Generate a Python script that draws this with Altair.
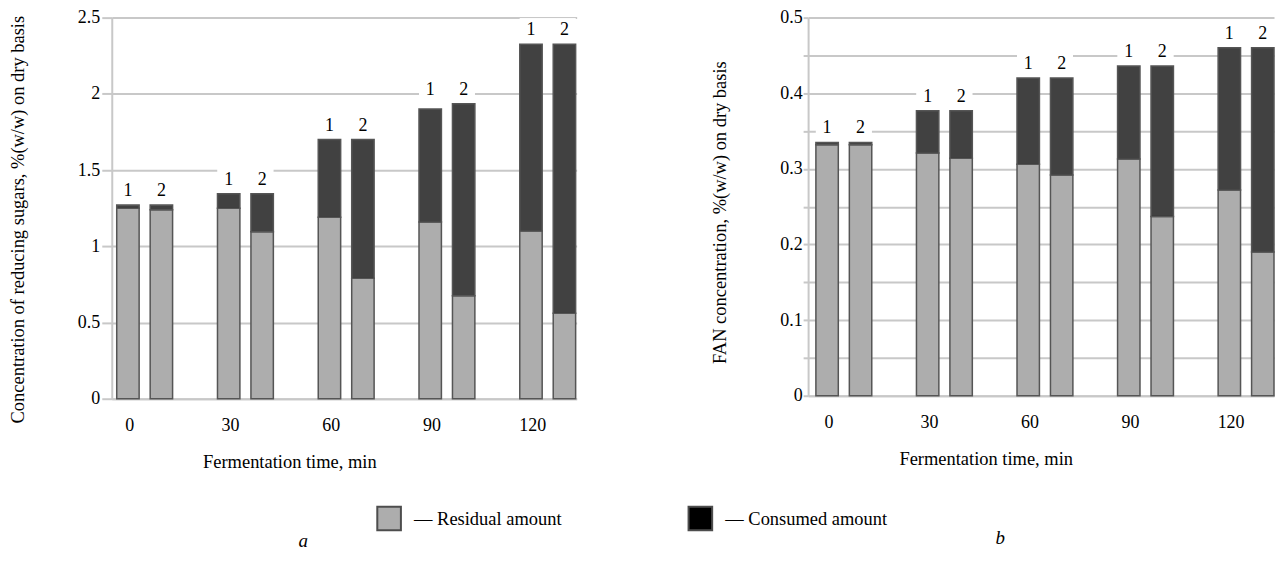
import altair as alt
import pandas as pd

FONT = "Liberation Serif"

# ---------------- data ----------------
times = ["0", "30", "60", "90", "120"]
sample_ids = ["1", "2"]
parts = ["Residual amount", "Consumed amount"]

# (a) reducing sugars, %(w/w) on dry basis
sugar_residual_1 = [1.25, 1.25, 1.19, 1.16, 1.10]
sugar_consumed_1 = [0.02, 0.095, 0.51, 0.74, 1.225]
sugar_residual_2 = [1.24, 1.095, 0.79, 0.675, 0.56]
sugar_consumed_2 = [0.03, 0.25, 0.91, 1.26, 1.765]

# (b) FAN, %(w/w) on dry basis
fan_residual_1 = [0.332, 0.321, 0.306, 0.313, 0.272]
fan_consumed_1 = [0.003, 0.056, 0.114, 0.123, 0.188]
fan_residual_2 = [0.332, 0.314, 0.292, 0.237, 0.190]
fan_consumed_2 = [0.003, 0.063, 0.128, 0.199, 0.270]

sugar_ticks = [0, 0.5, 1, 1.5, 2, 2.5]
fan_ticks = [0, 0.05, 0.1, 0.15, 0.2, 0.25, 0.3, 0.35, 0.4, 0.45, 0.5]


def build(res1, con1, res2, con2):
    rows = []
    for i, t in enumerate(times):
        for s, res, con in (("1", res1, con1), ("2", res2, con2)):
            tot = res[i] + con[i]
            rows.append({"time": t, "sample": s, "part": parts[0], "key": parts[0],
                         "ord": 0, "value": res[i], "total": tot})
            rows.append({"time": t, "sample": s, "part": parts[1], "key": parts[1],
                         "ord": 1, "value": con[i], "total": tot})
    return pd.DataFrame(rows)


GRID = "#c8c8c8"


def panel(df, ytitle, title_y, ydomain, yvalues, label_expr, tick_size, label_pad,
          width, height, xscale, letter, with_legend):
    x_axis = alt.Axis(labelAngle=0, ticks=False, domain=True, domainColor=GRID,
                      domainWidth=2, grid=False, labelFont=FONT, labelFontSize=18,
                      labelColor="black", labelPadding=18, labelOffset=-15,
                      title="Fermentation time, min", titleFont=FONT,
                      titleFontSize=18.5, titleFontWeight="normal", titleColor="black",
                      titleX=178, titleY=63, titleBaseline="middle", titleAlign="center")
    y_axis = alt.Axis(values=yvalues, format="~g", labelExpr=label_expr,
                      labelOverlap=False, grid=True, gridColor=GRID, gridWidth=2,
                      domain=True, domainColor=GRID, domainWidth=2,
                      ticks=True, tickSize=tick_size, tickColor=GRID, tickWidth=2,
                      labelFont=FONT, labelFontSize=18, labelColor="black",
                      labelPadding=label_pad, title=ytitle, titleFont=FONT,
                      titleFontSize=18.5, titleFontWeight="normal", titleColor="black",
                      titlePadding=50, titleY=title_y)
    X = alt.X("time:N", sort=times, scale=xscale, axis=x_axis)
    XO = alt.XOffset("sample:N", sort=sample_ids,
                     scale=alt.Scale(paddingInner=0.33, paddingOuter=0))
    yscale = alt.Scale(domain=ydomain, nice=False, zero=True)
    Y = alt.Y("value:Q", stack="zero", scale=yscale, axis=y_axis)

    if with_legend:
        legend = alt.Legend(title=None, orient="none", legendX=265, legendY=489,
                            direction="horizontal", columns=2, symbolType="square",
                            symbolSize=560, symbolStrokeWidth=2,
                            symbolStrokeColor="#4d4d4d", symbolOpacity=1,
                            labelFont=FONT, labelFontSize=18.5, labelColor="black",
                            labelOffset=12, columnPadding=123, labelLimit=400,
                            padding=0, labelExpr="'— ' + datum.label")
    else:
        legend = None

    base = alt.Chart(df)
    backing = base.mark_bar(color="white").encode(
        x=X, xOffset=XO, y=Y, order=alt.Order("ord:Q", sort="ascending"))
    bars = base.mark_bar(stroke="#555555", strokeWidth=1.5).encode(
        x=X, xOffset=XO, y=Y,
        color=alt.Color("part:N", scale=alt.Scale(domain=parts,
                        range=["#adadad", "#000000"]), legend=legend),
        fillOpacity=alt.FillOpacity("key:N", scale=alt.Scale(domain=parts,
                                    range=[1.0, 0.745]), legend=None),
        order=alt.Order("ord:Q", sort="ascending"),
    )
    tops = base.transform_filter(alt.datum.ord == 0).transform_joinaggregate(
        top="max(total)", groupby=["time"])
    boxes = tops.mark_rect(color="white", yOffset=-26, y2Offset=-6).encode(
        x=X, y=alt.Y("top:Q", scale=yscale, axis=y_axis), y2="top:Q")
    labels = tops.mark_text(font=FONT, fontSize=18, color="black", dy=-14,
                            baseline="middle").encode(
        x=X, xOffset=XO, y=alt.Y("top:Q", scale=yscale, axis=y_axis),
        text="sample:N")
    return alt.layer(backing, bars, boxes, labels).properties(
        width=width, height=height,
        title=alt.TitleParams(letter, orient="bottom", anchor="middle", frame="group",
                              dx=-41, offset=61, font=FONT, fontSize=19,
                              fontStyle="italic", fontWeight="normal", color="black"))


sugar_df = build(sugar_residual_1, sugar_consumed_1, sugar_residual_2, sugar_consumed_2)
fan_df = build(fan_residual_1, fan_consumed_1, fan_residual_2, fan_consumed_2)

left = panel(sugar_df, "Concentration of reducing sugars, %(w/w) on dry basis", 202,
             [0, 2.5], sugar_ticks, "datum.label", 10, 2, 466, 382,
             alt.Scale(paddingInner=0.4455, paddingOuter=0.0297, align=0.83), "a", True)
right = panel(fan_df, "FAN concentration, %(w/w) on dry basis", 195,
              [0, 0.5], fan_ticks,
              "(round(datum.value * 100) % 10 == 0) ? datum.label : ''", 5, 1, 467, 379,
              alt.Scale(paddingInner=0.4444, paddingOuter=0.0387, align=1), "b", False)

chart = alt.hconcat(left, right, spacing=134).properties(
    padding={"left": 0, "top": 0, "right": 0, "bottom": 0},
    background="white",
).configure_view(stroke=None)

chart.save("out.html", embed_options={"renderer": "svg", "actions": False})
